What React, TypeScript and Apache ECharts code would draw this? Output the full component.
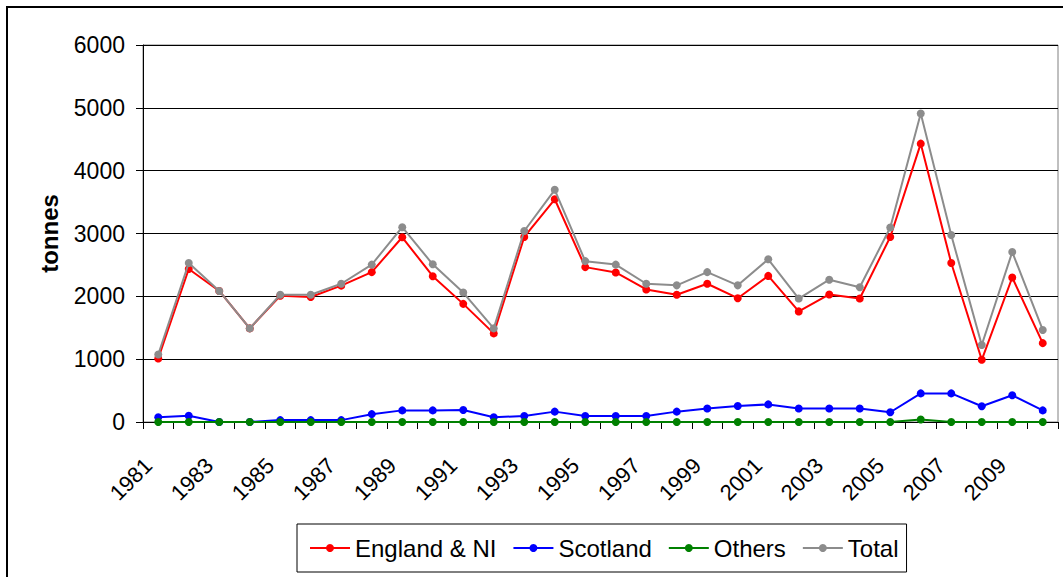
import React, { useEffect, useRef } from "react";
import * as echarts from "echarts";

const years = [
  "1981", "1982", "1983", "1984", "1985", "1986", "1987", "1988", "1989", "1990",
  "1991", "1992", "1993", "1994", "1995", "1996", "1997", "1998", "1999", "2000",
  "2001", "2002", "2003", "2004", "2005", "2006", "2007", "2008", "2009", "2010",
];
const englandNI = [
  1010, 2435, 2085, 1490, 2010, 1990, 2170, 2385, 2940, 2320,
  1880, 1410, 2945, 3545, 2465, 2380, 2110, 2025, 2200, 1970,
  2325, 1760, 2030, 1965, 2945, 4430, 2530, 990, 2300, 1255,
];
const scotland = [
  75, 100, 0, 0, 30, 30, 30, 125, 185, 185,
  190, 75, 95, 165, 95, 95, 95, 165, 215, 255,
  280, 215, 215, 215, 155, 455, 455, 250, 425, 185,
];
const others = [
  0, 0, 0, 0, 0, 0, 0, 0, 0, 0,
  0, 0, 0, 0, 0, 0, 0, 0, 0, 0,
  0, 0, 0, 0, 0, 40, 0, 0, 0, 0,
];
const total = [
  1075, 2530, 2085, 1490, 2025, 2025, 2200, 2505, 3100, 2510,
  2060, 1490, 3040, 3695, 2560, 2505, 2200, 2175, 2385, 2175,
  2590, 1965, 2265, 2145, 3095, 4910, 2975, 1225, 2705, 1465,
];
const seriesNames = ["England & NI", "Scotland", "Others", "Total"];
const seriesColors = ["#ff0000", "#0000ff", "#008000", "#8c8c8c"];

const FONT = "Liberation Sans, Arial, sans-serif";

export default function App() {
  const ref = useRef<HTMLDivElement>(null);
  useEffect(() => {
    if (!ref.current) return;
    const chart = echarts.init(ref.current, undefined, { renderer: "svg" });
    const datasets = [englandNI, scotland, others, total];
    chart.setOption({
      animation: false,
      backgroundColor: "#fff",
      textStyle: { fontFamily: FONT },
      graphic: [
        {
          type: "rect",
          shape: { x: 7, y: 7, width: 1100, height: 620 },
          style: { fill: "none", stroke: "#000", lineWidth: 2 },
          z: 100,
          silent: true,
        },
      ],
      grid: {
        left: 143,
        right: 5,
        top: 45,
        bottom: 155,
        show: true,
        borderColor: "#808080",
        borderWidth: 1,
        backgroundColor: "transparent",
      },
      legend: {
        left: 297,
        top: 524,
        padding: [12, 8, 12, 12],
        itemWidth: 40,
        itemHeight: 10,
        itemGap: 16,
        borderColor: "#000",
        borderWidth: 1,
        textStyle: { fontSize: 24, color: "#000", fontFamily: FONT },
        data: seriesNames,
      },
      xAxis: {
        type: "category",
        data: years,
        boundaryGap: true,
        axisLine: { lineStyle: { color: "#000", width: 1 } },
        axisTick: { show: true, interval: 0, length: 7, lineStyle: { color: "#000" } },
        axisLabel: {
          interval: 1,
          rotate: 45,
          fontSize: 22,
          color: "#000",
          margin: 30,
          padding: [0, 14, 0, 0],
          fontFamily: FONT,
        },
        splitLine: { show: false },
      },
      yAxis: {
        type: "value",
        min: 0,
        max: 6000,
        interval: 1000,
        name: "tonnes",
        nameLocation: "middle",
        nameGap: 82,
        nameTextStyle: { fontSize: 24, fontWeight: "bold", color: "#000", fontFamily: FONT },
        axisLine: { show: true, lineStyle: { color: "#000", width: 1 } },
        axisTick: { show: true, length: 7, lineStyle: { color: "#000" } },
        axisLabel: {
          fontSize: 23,
          color: "#000",
          margin: 18,
          fontFamily: FONT,
          formatter: (v: number) => String(v),
        },
        splitLine: { show: true, lineStyle: { color: "#000", width: 1 } },
      },
      series: seriesNames.map((name, i) => ({
        name,
        type: "line",
        data: datasets[i],
        symbol: "circle",
        symbolSize: 8,
        showSymbol: true,
        color: seriesColors[i],
        lineStyle: { width: 2, color: seriesColors[i] },
        itemStyle: { color: seriesColors[i] },
        z: 2 + i,
      })),
    });
    return () => chart.dispose();
  }, []);
  return (
    <div
      ref={ref}
      style={{ position: "absolute", left: 0, top: 0, width: 1063, height: 577 }}
    />
  );
}
